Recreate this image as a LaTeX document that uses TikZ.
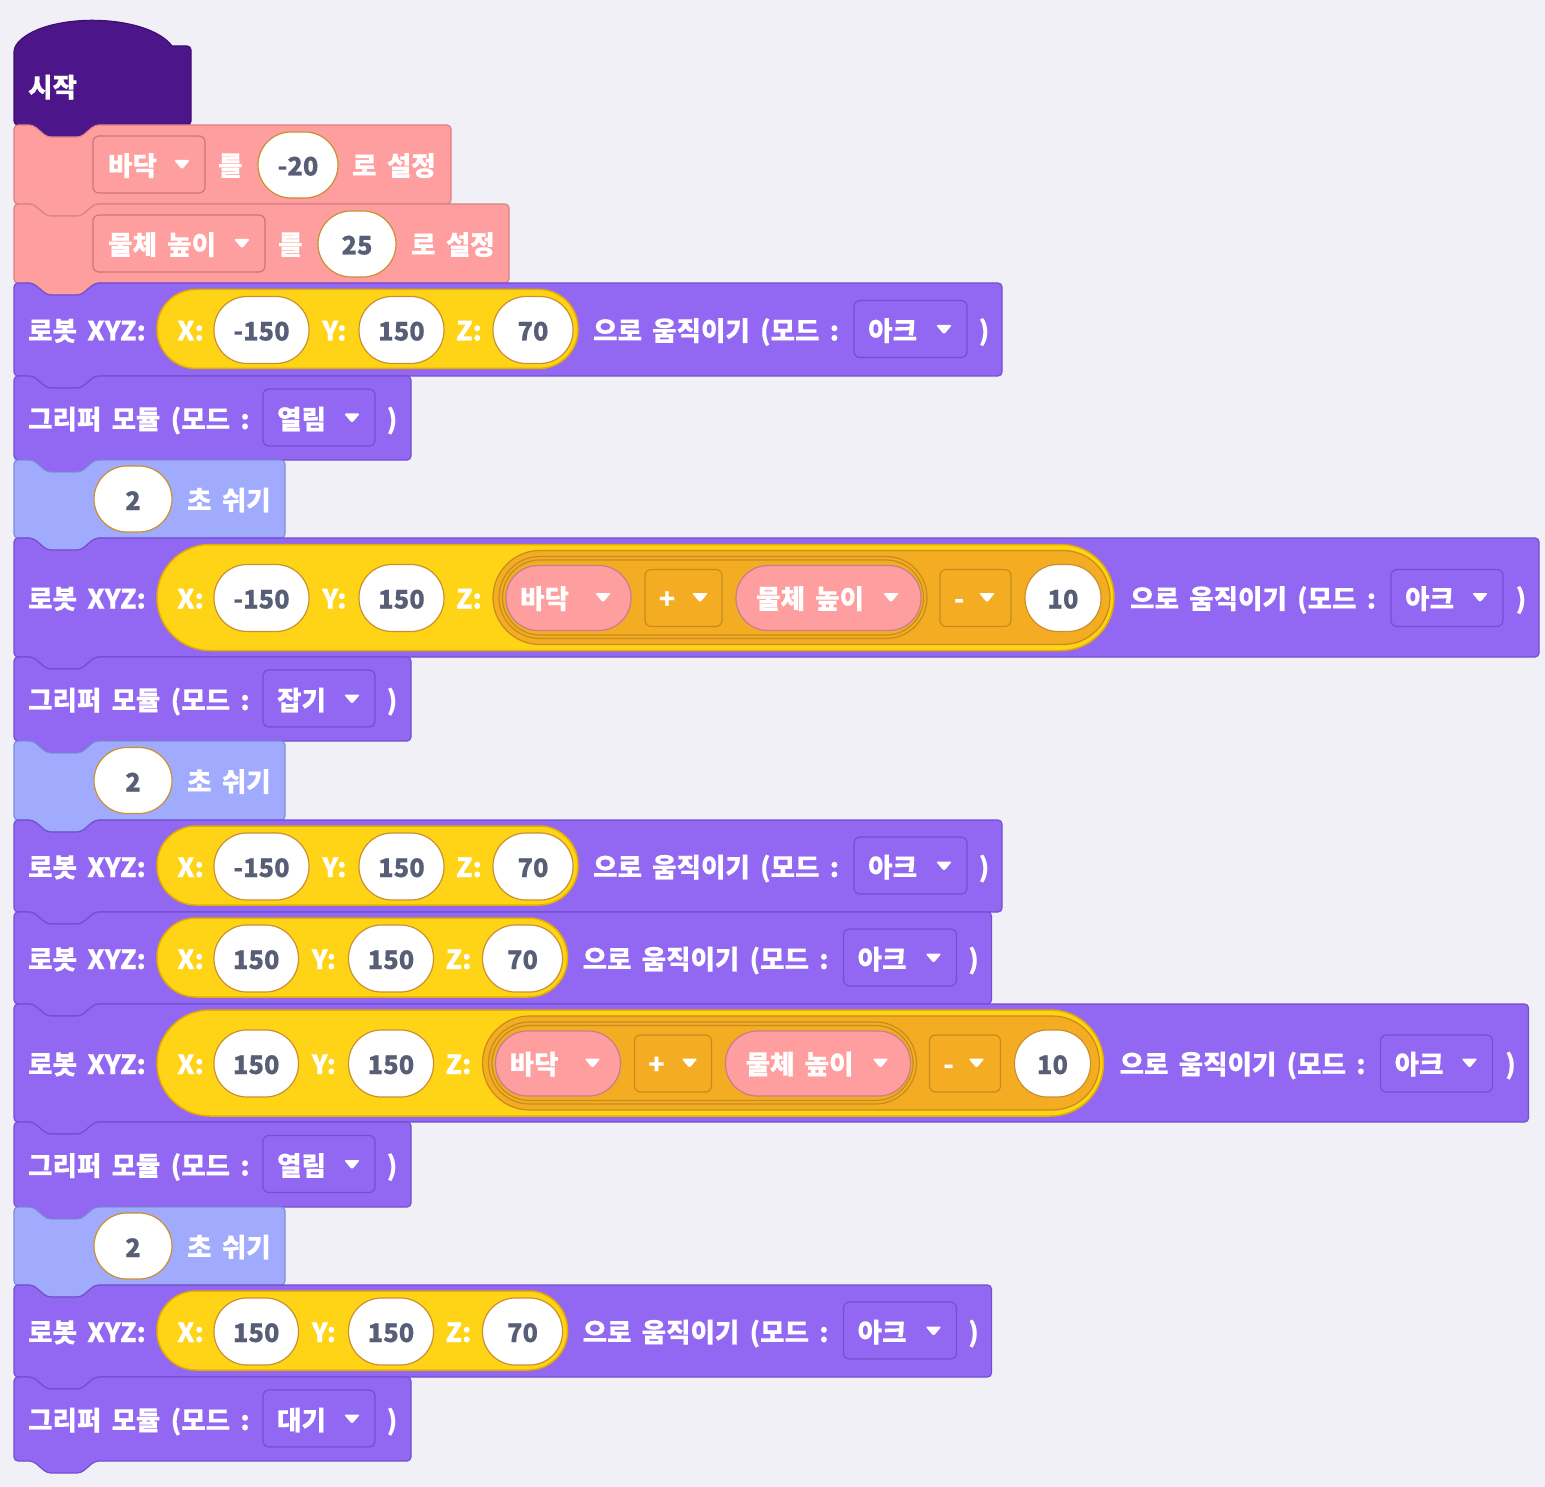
\documentclass[tikz,border=0pt]{standalone}
\usepackage{fontspec}
\setmainfont{Noto Sans CJK KR}[WordSpace=1.7, BoldFeatures={FakeBold=0.25}]
\definecolor{bg}{HTML}{F0F0F6}
\definecolor{hatc}{HTML}{4C1589}
\definecolor{hatb}{HTML}{3D0F70}
\definecolor{pinkc}{HTML}{FF9E9E}
\definecolor{pinkb}{HTML}{D98287}
\definecolor{pinkdd}{HTML}{CD7676}
\definecolor{purc}{HTML}{9267F2}
\definecolor{purb}{HTML}{7350CF}
\definecolor{bluec}{HTML}{A1ABFE}
\definecolor{blueb}{HTML}{808BDA}
\definecolor{yelc}{HTML}{FFD316}
\definecolor{yelb}{HTML}{E4AD00}
\definecolor{orac}{HTML}{F4AC23}
\definecolor{orab}{HTML}{C78C1C}
\definecolor{ovalb}{HTML}{C99030}
\definecolor{numc}{HTML}{575E75}
\definecolor{reppb}{HTML}{C47E90}
\tikzset{
  lbl/.style={text=white, font=\fontsize{26.5}{31}\selectfont\bfseries, anchor=base west, inner sep=0pt},
  numl/.style={text=numc, font=\fontsize{25.5}{31}\selectfont\bfseries, anchor=base, inner sep=0pt},
  hatblk/.style={fill=hatc, draw=hatb, line width=1.2pt},
  pinkblk/.style={fill=pinkc, draw=pinkb, line width=1.2pt},
  purblk/.style={fill=purc, draw=purb, line width=1.2pt},
  blueblk/.style={fill=bluec, draw=blueb, line width=1.2pt},
  ddpink/.style={fill=pinkc, draw=pinkdd, line width=1.2pt},
  ddpur/.style={fill=purc, draw=purb, line width=1.2pt},
  ddora/.style={fill=orac, draw=orab, line width=1.2pt},
  wov/.style={fill=white, draw=ovalb, line width=1.2pt},
  yelp/.style={fill=yelc, draw=yelb, line width=1.5pt},
  orap/.style={fill=orac, draw=orab, line width=1.2pt},
  orl/.style={draw=orab, line width=1.2pt},
  repp/.style={fill=pinkc, draw=reppb, line width=1.2pt},
}
\newcommand\stk[4]{\path[#1, rounded corners=4pt] (14,#3) -- (33,#3) -- (47,#3+12) -- (81,#3+12) -- (95,#3) -- (#2,#3) -- (#2,#4) -- (95,#4) -- (81,#4+12) -- (47,#4+12) -- (33,#4) -- (14,#4) -- cycle;}
\newcommand\rr[6]{\path[#1, rounded corners=#6pt] (#2,#3) rectangle (#4,#5);}
\newcommand\dtri[2]{\fill[white, rounded corners=2pt] (#1-8,#2-4.5) -- (#1+8,#2-4.5) -- (#1,#2+5) -- cycle;}
% gripper
\newcommand\gripper[4]{%
  \stk{purblk}{411}{#1}{#2}
  \pgfmathsetmacro\bcy{(#1+#2)/2}
  \node[lbl] (#4-t) at (28,\bcy+11) {그리퍼 모듈 (모드 :};
  \rr{ddpur}{263}{\bcy-29}{375}{\bcy+28}{6}
  \node[lbl] (#4-m) at (277,\bcy+11) {#3};
  \dtri{352}{\bcy}
  \node[lbl, anchor=base] (#4-p) at (392,\bcy+11) {)};
}
% wait
\newcommand\waitblk[3]{%
  \stk{blueblk}{285}{#1}{#2}
  \pgfmathsetmacro\bcy{(#1+#2)/2}
  \rr{wov}{94}{\bcy-33}{172}{\bcy+33}{33}
  \node[numl] (#3-n) at (133,\bcy+11) {2};
  \node[lbl] (#3-t) at (187,\bcy+11) {초 쉬기};
}
% robot simple: #1 top #2 bottom #3 xval #4 shift #5 name
\newcommand\robotA[5]{%
  \stk{purblk}{1002+#4}{#1}{#2}
  \pgfmathsetmacro\bcy{(#1+#2)/2}
  \node[lbl] (#5-a) at (28,\bcy+11) {로봇 XYZ:};
  \rr{yelp}{157}{\bcy-40}{578+#4}{\bcy+39}{39}
  \node[lbl] (#5-x) at (177,\bcy+11) {X:};
  \rr{wov}{214}{\bcy-33}{309+#4}{\bcy+34}{33}
  \node[numl] (#5-xv) at (261.5+#4*0.5,\bcy+11) {#3};
  \node[lbl] (#5-y) at (322+#4,\bcy+11) {Y:};
  \rr{wov}{359+#4}{\bcy-33}{444+#4}{\bcy+34}{33}
  \node[numl] (#5-yv) at (401.5+#4,\bcy+11) {150};
  \node[lbl] (#5-z) at (456+#4,\bcy+11) {Z:};
  \rr{wov}{493+#4}{\bcy-33}{573+#4}{\bcy+34}{33}
  \node[numl] (#5-zv) at (533+#4,\bcy+11) {70};
  \node[lbl] (#5-t) at (593+#4,\bcy+11) {으로 움직이기 (모드 :};
  \rr{ddpur}{854+#4}{\bcy-29}{967+#4}{\bcy+28}{6}
  \node[lbl] (#5-m) at (868+#4,\bcy+11) {아크};
  \dtri{944+#4}{\bcy}
  \node[lbl, anchor=base] (#5-p) at (984+#4,\bcy+11) {)};
}
% robot with expression
\newcommand\robotC[5]{%
  \stk{purblk}{1539+#4}{#1}{#2}
  \pgfmathsetmacro\bcy{(#1+#2)/2}
  \node[lbl] (#5-a) at (28,\bcy+11) {로봇 XYZ:};
  \rr{yelp}{157}{\bcy-53}{1114+#4}{\bcy+53}{53}
  \node[lbl] (#5-x) at (177,\bcy+11) {X:};
  \rr{wov}{214}{\bcy-33}{309+#4}{\bcy+34}{33}
  \node[numl] (#5-xv) at (261.5+#4*0.5,\bcy+11) {#3};
  \node[lbl] (#5-y) at (322+#4,\bcy+11) {Y:};
  \rr{wov}{359+#4}{\bcy-33}{444+#4}{\bcy+34}{33}
  \node[numl] (#5-yv) at (401.5+#4,\bcy+11) {150};
  \node[lbl] (#5-z) at (456+#4,\bcy+11) {Z:};
  \rr{orap}{493+#4}{\bcy-47}{1110+#4}{\bcy+47}{47}
  \rr{orap}{499+#4}{\bcy-41}{927+#4}{\bcy+41}{41}
  \rr{orl}{502.5+#4}{\bcy-37.5}{923.5+#4}{\bcy+37.5}{37.5}
  \rr{repp}{506+#4}{\bcy-32}{631+#4}{\bcy+33}{32}
  \node[lbl] (#5-f) at (520+#4,\bcy+11) {바닥};
  \dtri{603+#4}{\bcy}
  \rr{ddora}{645+#4}{\bcy-28}{722+#4}{\bcy+29}{6}
  \node[lbl, anchor=base] (#5-plus) at (667+#4,\bcy+11) {+};
  \dtri{700+#4}{\bcy}
  \rr{repp}{736+#4}{\bcy-32}{921+#4}{\bcy+33}{32}
  \node[lbl] (#5-h) at (756+#4,\bcy+11) {물체 높이};
  \dtri{891+#4}{\bcy}
  \rr{ddora}{940+#4}{\bcy-28}{1011+#4}{\bcy+29}{6}
  \node[lbl, anchor=base] (#5-minus) at (959+#4,\bcy+11) {-};
  \dtri{987+#4}{\bcy}
  \rr{wov}{1025+#4}{\bcy-33}{1101+#4}{\bcy+34}{33}
  \node[numl] (#5-ten) at (1063+#4,\bcy+11) {10};
  \node[lbl] (#5-t) at (1130+#4,\bcy+11) {으로 움직이기 (모드 :};
  \rr{ddpur}{1391+#4}{\bcy-28}{1503+#4}{\bcy+29}{6}
  \node[lbl] (#5-m) at (1405+#4,\bcy+11) {아크};
  \dtri{1480+#4}{\bcy}
  \node[lbl, anchor=base] (#5-p) at (1521+#4,\bcy+11) {)};
}
\begin{document}
\begin{tikzpicture}[x=1pt,y=-1pt]
\path[fill=bg] (0,0) rectangle (1545,1487);
\useasboundingbox (0,0) rectangle (1545,1487);
% hat block
\path[hatblk] (14,48) .. controls (40,12) and (146,12) .. (172,46) [rounded corners=4pt] -- (191,46) -- (191,125) -- (95,125) -- (81,137) -- (47,137) -- (33,125) -- (14,125) -- cycle;
\node[lbl] (start) at (28,97) {시작};
% set blocks
\stk{pinkblk}{451}{125}{204}
\rr{ddpink}{93}{136}{205}{193}{6}
\node[lbl] (s1-v) at (108,175.5) {바닥};
\dtri{182}{164.5}
\node[lbl] (s1-r) at (218,175.5) {를};
\rr{wov}{258}{132}{338}{198}{33}
\node[numl] (s1-n) at (298,175.5) {-20};
\node[lbl] (s1-t) at (352,175.5) {로 설정};
\stk{pinkblk}{509}{204}{283}
\rr{ddpink}{93}{215}{265}{272}{6}
\node[lbl] (s2-v) at (108,254.5) {물체 높이};
\dtri{242}{243.5}
\node[lbl] (s2-r) at (278,254.5) {를};
\rr{wov}{318}{211}{396}{277}{33}
\node[numl] (s2-n) at (357,254.5) {25};
\node[lbl] (s2-t) at (411,254.5) {로 설정};
% sequence
\robotA{283}{376}{-150}{0}{r1}
\gripper{376}{460}{열림}{g1}
\waitblk{460}{538}{w1}
\robotC{538}{657}{-150}{0}{r2}
\gripper{657}{741}{잡기}{g2}
\waitblk{741}{820}{w2}
\robotA{820}{912}{-150}{0}{r3}
\robotA{912}{1004}{150}{-10.5}{r4}
\robotC{1004}{1122}{150}{-10.5}{r5}
\gripper{1122}{1207}{열림}{g3}
\waitblk{1207}{1285}{w3}
\robotA{1285}{1377}{150}{-10.5}{r6}
\gripper{1377}{1461}{대기}{g4}
\end{tikzpicture}
\end{document}
